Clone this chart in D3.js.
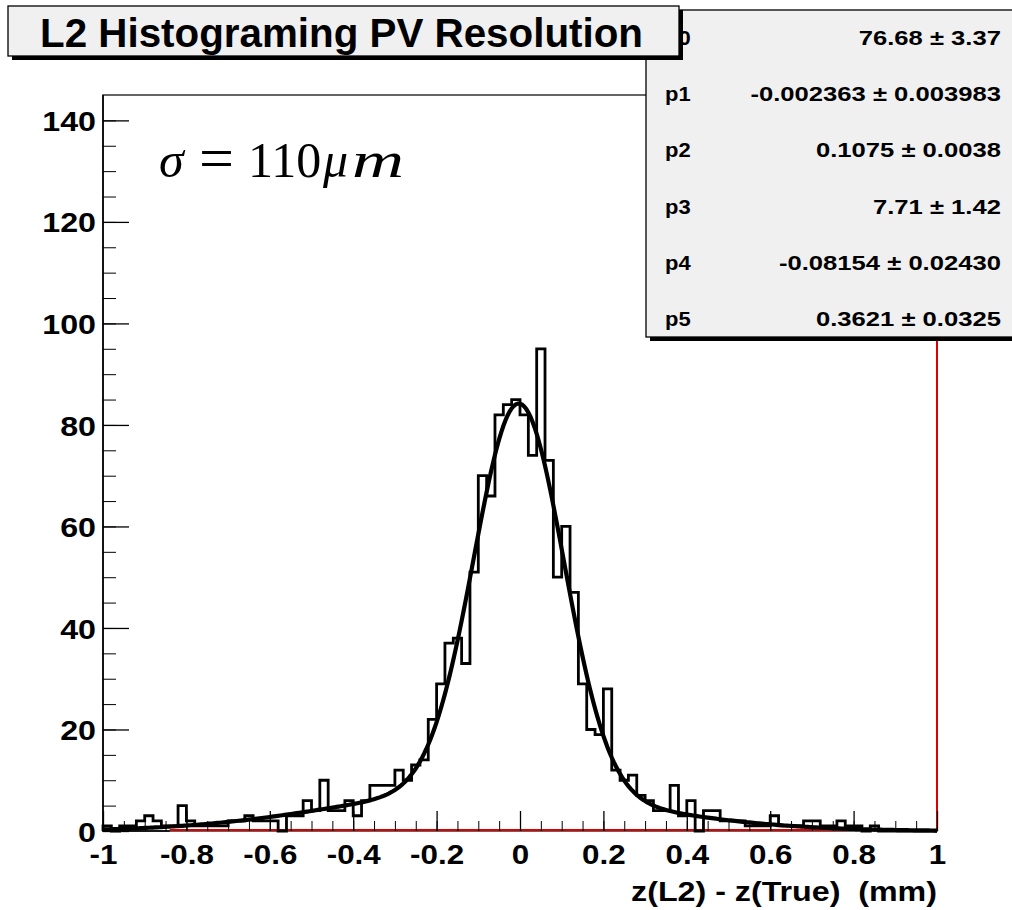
<!DOCTYPE html>
<html>
<head>
<meta charset="utf-8">
<script src="https://cdn.jsdelivr.net/npm/d3@7"></script>
<style>
  body { margin: 0; background: #fff; }
  svg { display: block; }
</style>
</head>
<body>
<div class="canvas"></div>
<script>
// histogram: 100 bins from -1 to 1
const xRange = [-1, 1]
const counts = [
  1, 0, 1, 1, 2, 3, 2, 1, 1, 5,
  2, 1, 1, 1, 1, 2, 2, 3, 2, 2,
  2, 0, 3, 3, 6, 4, 10, 4, 4, 6,
  3, 6, 9, 9, 9, 12, 10, 13, 14, 22,
  29, 37, 38, 33, 51, 70, 66, 82, 84, 85,
  82, 74, 95, 73, 50, 60, 47, 29, 20, 19,
  28, 12, 10, 11, 7, 6, 4, 4, 9, 3,
  6, 0, 4, 4, 2, 2, 2, 1, 1, 1,
  3, 1, 1, 1, 2, 2, 1, 1, 2, 1,
  1, 0, 1, 0, 0, 0, 0, 0, 0, 0,
]

// fit (double gaussian), parameters from the stats box
const parNames = ['p0', 'p1', 'p2', 'p3', 'p4', 'p5']
const parValues = [76.68, -0.002363, 0.1075, 7.71, -0.08154, 0.3621]
const parErrors = ['3.37', '0.003983', '0.0038', '1.42', '0.02430', '0.0325']
const parText = ['76.68', '-0.002363', '0.1075', '7.71', '-0.08154', '0.3621']

const xTicks = [-1, -0.8, -0.6, -0.4, -0.2, 0, 0.2, 0.4, 0.6, 0.8, 1]
const xTickLabels = ['-1', '-0.8', '-0.6', '-0.4', '-0.2', '0', '0.2', '0.4', '0.6', '0.8', '1']
const yTicks = [0, 20, 40, 60, 80, 100, 120, 140]
const yMax = 145

const title = 'L2 Histograming PV Resolution'
const xTitle = 'z(L2) - z(True)  (mm)'

const W = 1012, H = 910
const frame = { left: 103, right: 937, top: 95, bottom: 831 }
const sans = '"Liberation Sans", Arial, sans-serif'
const serif = '"Liberation Serif", "Times New Roman", serif'

const svg = d3.select('.canvas').append('svg')
  .attr('width', W).attr('height', H)

const x = d3.scaleLinear().domain(xRange).range([frame.left, frame.right])
const y = d3.scaleLinear().domain([0, yMax]).range([frame.bottom, frame.top])

// widen text to the look of the original rendering
const stretch = (sel, k) => sel.each(function () {
  const w = this.getComputedTextLength()
  d3.select(this).attr('textLength', w * k).attr('lengthAdjust', 'spacingAndGlyphs')
})

// frame
svg.append('rect')
  .attr('x', frame.left).attr('y', frame.top)
  .attr('width', frame.right - frame.left).attr('height', frame.bottom - frame.top)
  .attr('fill', 'none').attr('stroke', '#333').attr('stroke-width', 1.5)

// red line along the bottom and right side
svg.append('path')
  .attr('d', `M${x(-0.84)},${frame.bottom - 1}H${frame.right}V${frame.top}`)
  .attr('fill', 'none').attr('stroke', '#d00').attr('stroke-width', 2)

// x axis: minor + major ticks pointing up
const xMinor = d3.range(-1, 1.0001, 0.05)
svg.append('g').attr('transform', `translate(0,${frame.bottom})`)
  .call(d3.axisBottom(x).tickValues(xMinor).tickSize(-10).tickFormat(''))
  .call((g) => g.select('.domain').remove())
const xAxis = svg.append('g').attr('transform', `translate(0,${frame.bottom})`)
  .call(d3.axisBottom(x).tickValues(xTicks).tickSizeInner(-20).tickSizeOuter(0)
    .tickPadding(13).tickFormat((d, i) => xTickLabels[i]))
  .call((g) => g.select('.domain').remove())
xAxis.selectAll('line').attr('stroke', '#000').attr('stroke-width', 1.3)
xAxis.selectAll('text')
  .attr('font-family', sans).attr('font-weight', 'bold').attr('font-size', 28)
  .attr('fill', '#000').call(stretch, 1.12)

// y axis
const yMinor = d3.range(0, yMax, 5)
svg.append('g').attr('transform', `translate(${frame.left},0)`)
  .call(d3.axisLeft(y).tickValues(yMinor).tickSize(-13).tickFormat(''))
  .call((g) => g.select('.domain').remove())
const yAxis = svg.append('g').attr('transform', `translate(${frame.left},0)`)
  .call(d3.axisLeft(y).tickValues(yTicks).tickSizeInner(-26).tickSizeOuter(0).tickPadding(7))
  .call((g) => g.select('.domain').remove())
yAxis.selectAll('line').attr('stroke', '#000').attr('stroke-width', 1.3)
yAxis.selectAll('text')
  .attr('font-family', sans).attr('font-weight', 'bold').attr('font-size', 28)
  .attr('dy', '0.36em').attr('fill', '#000').call(stretch, 1.15)
svg.selectAll('.tick line').attr('stroke', '#000')

// axis frame lines on top of ticks
svg.append('path')
  .attr('d', `M${frame.left},${frame.top}V${frame.bottom}H${x(-0.84)}`)
  .attr('fill', 'none').attr('stroke', '#000').attr('stroke-width', 1.6)

// histogram as step outline
const binW = (xRange[1] - xRange[0]) / counts.length
const steps = []
counts.forEach((c, i) => {
  steps.push([xRange[0] + i * binW, c])
  steps.push([xRange[0] + (i + 1) * binW, c])
})
const stepLine = d3.line().x((d) => x(d[0])).y((d) => y(d[1]))
svg.append('path')
  .datum([[xRange[0], 0], ...steps, [xRange[1], 0]])
  .attr('d', stepLine)
  .attr('fill', 'none').attr('stroke', '#000').attr('stroke-width', 2.8)
  .attr('stroke-linejoin', 'miter')

// fit curve
const [p0, p1, p2, p3, p4, p5] = parValues
const fit = (v) => p0 * Math.exp(-0.5 * ((v - p1) / p2) ** 2) +
  p3 * Math.exp(-0.5 * ((v - p4) / p5) ** 2)
const fitPts = d3.range(0, 401).map((i) => xRange[0] + i * (xRange[1] - xRange[0]) / 400)
svg.append('path')
  .datum(fitPts)
  .attr('d', d3.line().x((d) => x(d)).y((d) => y(fit(d))))
  .attr('fill', 'none').attr('stroke', '#000').attr('stroke-width', 4.2)

// sigma label
const sig = svg.append('text')
  .attr('y', 177).attr('font-family', serif).attr('font-size', 50).attr('fill', '#000')
sig.append('tspan').attr('x', 159).attr('font-style', 'italic').text('σ')
sig.append('tspan').attr('x', 199).attr('font-size', 62).attr('dy', 2).text('=')
sig.append('tspan').attr('x', 248).attr('dy', -2).text('110')
sig.append('tspan').attr('x', 323).attr('font-style', 'italic').text('μ')
sig.append('tspan').attr('x', 352).attr('font-style', 'italic')
  .attr('textLength', 52).attr('lengthAdjust', 'spacingAndGlyphs').text('m')

// stats box
const stats = { x: 646, y: 10, w: 380, h: 327 }
svg.append('rect')
  .attr('x', stats.x + 4).attr('y', stats.y + 4).attr('width', stats.w).attr('height', stats.h)
  .attr('fill', '#000')
svg.append('rect')
  .attr('x', stats.x).attr('y', stats.y).attr('width', stats.w).attr('height', stats.h)
  .attr('fill', '#f0f0f0').attr('stroke', '#000').attr('stroke-width', 1.3)
const rowY = d3.scaleLinear().domain([0, 5]).range([45, 326])
const rows = svg.append('g').selectAll('g').data(parNames).join('g')
  .attr('transform', (d, i) => `translate(0,${rowY(i)})`)
rows.append('text')
  .attr('x', 665).attr('font-family', sans).attr('font-weight', 'bold')
  .attr('font-size', 20).attr('fill', '#000').text((d) => d)
  .call(stretch, 1.1)
rows.append('text')
  .attr('x', 1001).attr('text-anchor', 'end')
  .attr('font-family', sans).attr('font-weight', 'bold')
  .attr('font-size', 21).attr('fill', '#000')
  .text((d, i) => `${parText[i]} ± ${parErrors[i]}`)
  .call(stretch, 1.22)

// title box
const tb = { x: 8, y: 6, w: 671, h: 50 }
svg.append('rect')
  .attr('x', tb.x + 4).attr('y', tb.y + 4).attr('width', tb.w).attr('height', tb.h)
  .attr('fill', '#000')
svg.append('rect')
  .attr('x', tb.x).attr('y', tb.y).attr('width', tb.w).attr('height', tb.h)
  .attr('fill', '#f0f0f0').attr('stroke', '#000').attr('stroke-width', 1.3)
svg.append('text')
  .attr('x', tb.x + tb.w / 2 - 2).attr('y', 47).attr('text-anchor', 'middle')
  .attr('font-family', sans).attr('font-weight', 'bold').attr('font-size', 40)
  .attr('fill', '#000').text(title)
  .attr('textLength', 603).attr('lengthAdjust', 'spacingAndGlyphs')

// x axis title
svg.append('text')
  .attr('x', frame.right).attr('y', 901).attr('text-anchor', 'end')
  .style('white-space', 'pre')
  .attr('font-family', sans).attr('font-weight', 'bold').attr('font-size', 28)
  .attr('fill', '#000').text(xTitle)
  .call(stretch, 1.15)
</script>
</body>
</html>
